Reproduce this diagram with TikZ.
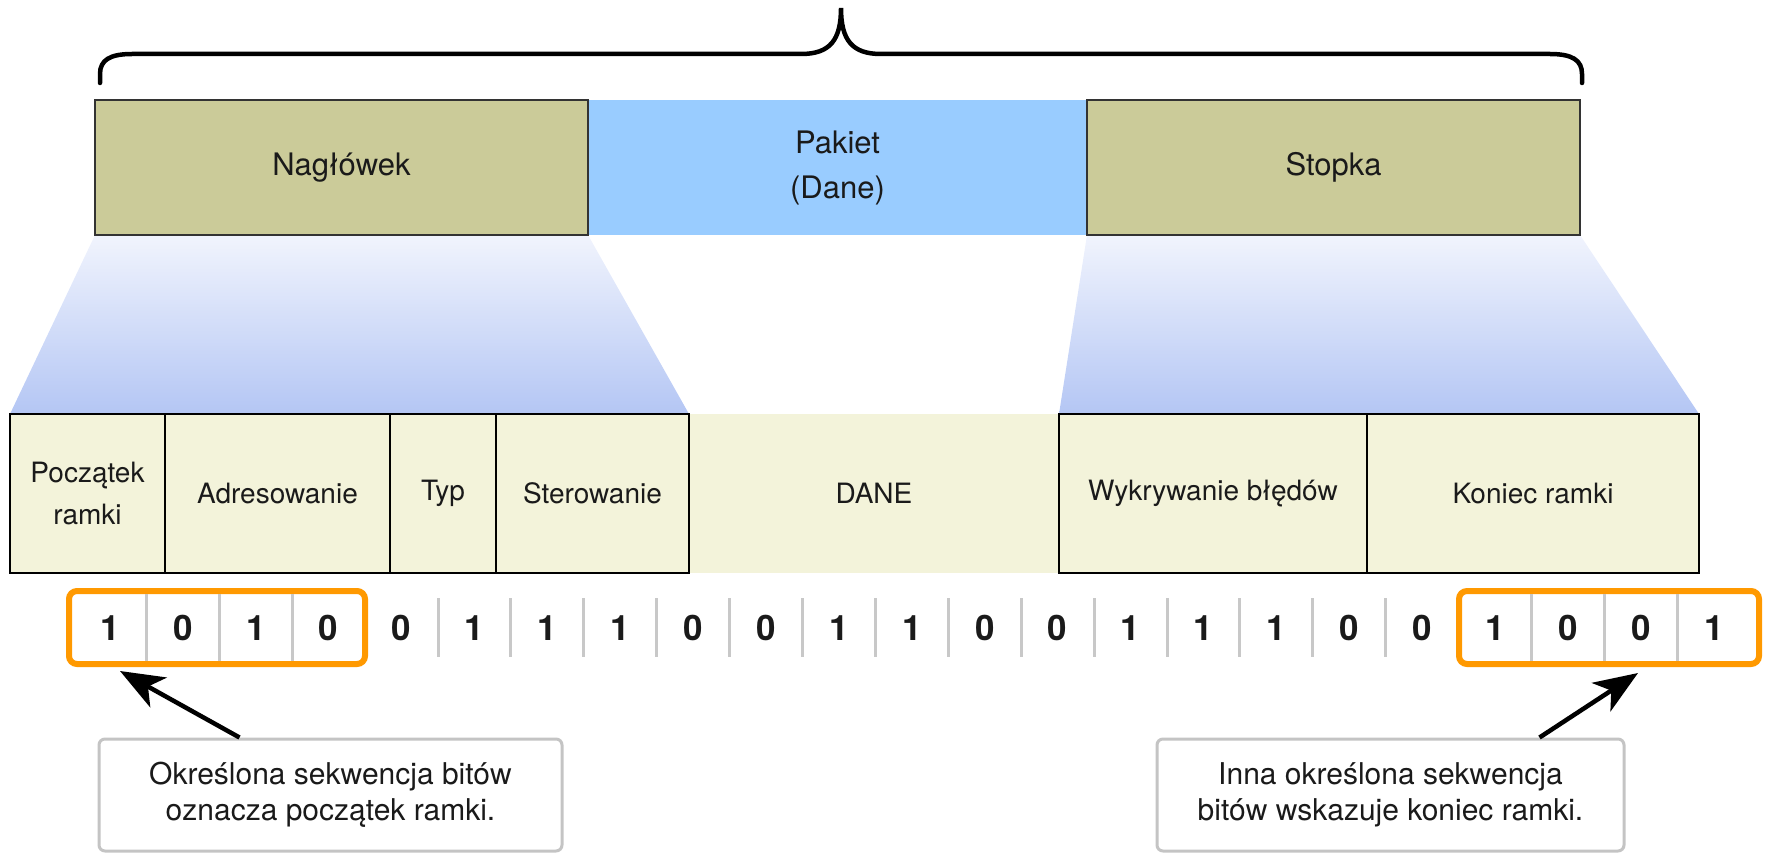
\documentclass[tikz,border=0pt]{standalone}
\usepackage{fontspec}
\setmainfont{TeX Gyre Heros}
\usetikzlibrary{arrows.meta}

\definecolor{hdrfill}{HTML}{CBCB99}
\definecolor{pktfill}{HTML}{99CCFF}
\definecolor{fieldfill}{HTML}{F3F3DA}
\definecolor{edgegray}{HTML}{333333}
\definecolor{ink}{HTML}{1A1A1A}
\definecolor{sepgray}{HTML}{C8C8C8}
\definecolor{selorange}{HTML}{FF9900}
\definecolor{calloutgray}{HTML}{C4C4C4}
\definecolor{fadetop}{HTML}{F1F4FD}
\definecolor{fadebottom}{HTML}{B4C6F4}

\begin{document}
\begin{tikzpicture}[x=1pt,y=-1pt,
  topbox/.style={draw=edgegray, line width=2pt, fill=hdrfill, inner sep=0pt, outer sep=0pt,
    minimum height=135pt, text=ink, font=\fontsize{31}{38}\selectfont},
  pktbox/.style={fill=pktfill, inner sep=0pt, outer sep=0pt, minimum height=135pt,
    text=ink, align=center, font=\fontsize{31}{45}\selectfont},
  fieldbox/.style={draw=black, line width=2.5pt, fill=fieldfill, inner sep=0pt, outer sep=0pt,
    minimum height=159pt, text=ink, align=center, font=\fontsize{28}{42}\selectfont},
  databox/.style={fill=fieldfill, inner sep=0pt, outer sep=0pt, minimum height=159pt,
    text=ink, font=\fontsize{28}{34}\selectfont},
  bitlabel/.style={text=ink, inner sep=0pt, font=\fontsize{35}{35}\selectfont\bfseries},
  sepline/.style={draw=sepgray, line width=3pt},
  selbox/.style={draw=selorange, line width=6pt, rounded corners=8pt, fill=white,
    inner sep=0pt, minimum height=73pt, minimum width=296pt},
  callout/.style={draw=calloutgray, line width=3pt, rounded corners=6pt, fill=white,
    inner sep=0pt, minimum height=112pt, text=ink, align=center,
    font=\fontsize{30}{36}\selectfont},
  pointer/.style={-{Stealth[length=44pt,width=34pt,inset=12pt]}, line width=4.5pt},
  bracepath/.style={line width=4.5pt, line cap=round}]

\useasboundingbox (0,0) rectangle (1771,853);

% zoom wedges between the frame parts and their fields
\shade[top color=fadetop, bottom color=fadebottom]
  (95,235) -- (588,235) -- (689,414) -- (10,414) -- cycle;
\shade[top color=fadetop, bottom color=fadebottom]
  (1087,235) -- (1580,235) -- (1699,414) -- (1059,414) -- cycle;

% brace over the whole frame
\draw[bracepath] (100,83) -- (100,74) .. controls (100,60) and (110,54) .. (132,54)
  -- (801,54) .. controls (830,54) and (841,40) .. (841,8)
  .. controls (841,40) and (852,54) .. (881,54)
  -- (1550,54) .. controls (1572,54) and (1582,60) .. (1582,74) -- (1582,83);

% frame: header, packet, trailer
\node[pktbox, minimum width=499pt] (pkt) at (837.5,167.5) {Pakiet\\(Dane)};
\node[topbox, minimum width=493pt] (hdr) at (341.5,167.5) {Nagłówek};
\node[topbox, minimum width=493pt] (ftr) at (1333.5,167.5) {Stopka};

% frame fields
\node[databox, minimum width=370pt] (dane) at (874,493.5) {DANE};
\node[fieldbox, minimum width=155pt] (start) at (87.5,493.5) {Początek\\ramki};
\node[fieldbox, minimum width=225pt] (addr) at (277.5,493.5) {Adresowanie};
\node[fieldbox, minimum width=106pt] (type) at (443,493.5) {Typ};
\node[fieldbox, minimum width=193pt] (ctrl) at (592.5,493.5) {Sterowanie};
\node[fieldbox, minimum width=308pt] (err) at (1213,493.5) {Wykrywanie błędów};
\node[fieldbox, minimum width=332pt] (stop) at (1533,493.5) {Koniec ramki};

% highlighted start and end sequences
\node[selbox] (sel1) at (217,627.5) {};
\node[selbox, minimum width=300pt] (sel2) at (1609,627.5) {};

% separators between bits
\foreach \i in {0,1,2,19,20,21}
  \draw[sepline] ({146.45+72.9*\i},594) -- ({146.45+72.9*\i},661);
\foreach \i in {4,...,17}
  \draw[sepline] ({146.45+72.9*\i},598) -- ({146.45+72.9*\i},657);

% bit stream
\foreach \v [count=\i from 0] in {1,0,1,0,0,1,1,1,0,0,1,1,0,0,1,1,1,0,0,1,0,0,1}
  \node[bitlabel] (b\i) at ({110+72.9*\i},628) {\v};

% explanations
\node[callout, minimum width=463pt] (c1) at (330.5,795)
  {Określona sekwencja bitów\\oznacza początek ramki.};
\node[callout, minimum width=467pt] (c2) at (1390.5,795)
  {Inna określona sekwencja\\bitów wskazuje koniec ramki.};

\draw[pointer] ([xshift=142pt]c1.north west) -- ([xshift=54pt,yshift=-4pt]sel1.south west);
\draw[pointer] ([xshift=384pt]c2.north west) -- ([xshift=182pt,yshift=-6pt]sel2.south west);

\end{tikzpicture}
\end{document}
